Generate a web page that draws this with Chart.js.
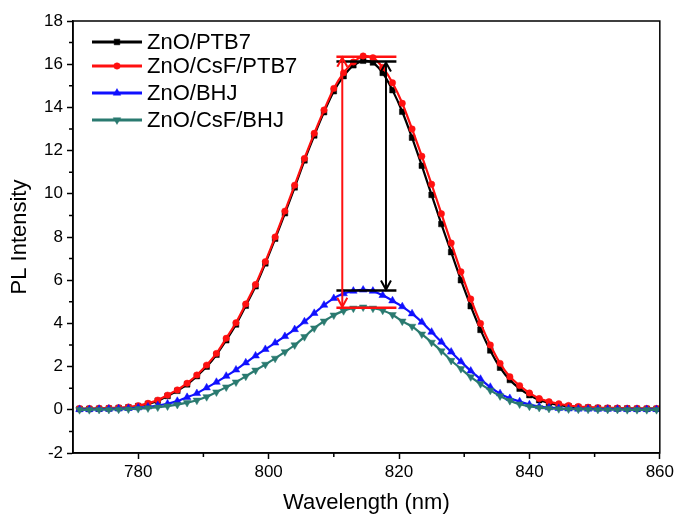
<!DOCTYPE html>
<html>
<head>
<meta charset="utf-8">
<script src="https://cdn.jsdelivr.net/npm/chart.js@4/dist/chart.umd.min.js"></script>
<style>
  html, body { margin: 0; padding: 0; background: #ffffff; }
  canvas { display: block; }
</style>
</head>
<body>
<canvas id="c" width="677" height="515"></canvas>
<script>
// ---- data ----
const wavelengths = [771, 772.5, 774, 775.5, 777, 778.5, 780, 781.5, 783, 784.5,
  786, 787.5, 789, 790.5, 792, 793.5, 795, 796.5, 798, 799.5,
  801, 802.5, 804, 805.5, 807, 808.5, 810, 811.5, 813, 814.5,
  816, 817.5, 819, 820.5, 822, 823.5, 825, 826.5, 828, 829.5,
  831, 832.5, 834, 835.5, 837, 838.5, 840, 841.5, 843, 844.5,
  846, 847.5, 849, 850.5, 852, 853.5, 855, 856.5, 858, 859.5];

const znoPtb7 = [0.04, 0.04, 0.05, 0.06, 0.08, 0.11, 0.17, 0.27, 0.42, 0.64,
  0.88, 1.18, 1.56, 2.00, 2.55, 3.22, 3.95, 4.82, 5.72, 6.78,
  7.92, 9.10, 10.30, 11.55, 12.70, 13.78, 14.75, 15.45, 15.95, 16.16,
  16.08, 15.60, 14.80, 13.80, 12.60, 11.30, 9.95, 8.60, 7.30, 6.00,
  4.80, 3.70, 2.75, 1.95, 1.38, 0.98, 0.68, 0.45, 0.32, 0.22,
  0.16, 0.12, 0.10, 0.08, 0.07, 0.06, 0.06, 0.05, 0.05, 0.05];

const znoCsfPtb7 = [0.06, 0.06, 0.07, 0.08, 0.10, 0.13, 0.19, 0.30, 0.45, 0.68,
  0.92, 1.23, 1.61, 2.07, 2.61, 3.31, 4.03, 4.90, 5.80, 6.86,
  8.00, 9.20, 10.40, 11.64, 12.80, 13.88, 14.88, 15.60, 16.10, 16.38,
  16.30, 15.85, 15.14, 14.19, 13.00, 11.74, 10.44, 9.08, 7.72, 6.39,
  5.13, 4.00, 3.00, 2.15, 1.53, 1.12, 0.78, 0.52, 0.38, 0.28,
  0.20, 0.15, 0.12, 0.10, 0.09, 0.08, 0.07, 0.07, 0.06, 0.06];

const znoBhj = [0.02, 0.02, 0.03, 0.04, 0.05, 0.07, 0.10, 0.14, 0.20, 0.28,
  0.40, 0.58, 0.76, 1.02, 1.28, 1.56, 1.85, 2.18, 2.50, 2.80,
  3.10, 3.40, 3.72, 4.08, 4.47, 4.85, 5.16, 5.38, 5.50, 5.55,
  5.50, 5.30, 5.05, 4.78, 4.45, 4.06, 3.60, 3.14, 2.68, 2.23,
  1.80, 1.42, 1.05, 0.75, 0.53, 0.38, 0.24, 0.15, 0.10, 0.07,
  0.05, 0.04, 0.04, 0.03, 0.03, 0.03, 0.02, 0.02, 0.02, 0.02];

const znoCsfBhj = [0.00, 0.00, 0.01, 0.01, 0.02, 0.03, 0.05, 0.08, 0.12, 0.17,
  0.24, 0.33, 0.44, 0.60, 0.82, 1.05, 1.28, 1.55, 1.83, 2.10,
  2.38, 2.68, 3.00, 3.38, 3.78, 4.10, 4.38, 4.58, 4.70, 4.75,
  4.70, 4.60, 4.40, 4.10, 3.86, 3.50, 3.12, 2.72, 2.28, 1.90,
  1.52, 1.20, 0.90, 0.64, 0.42, 0.26, 0.16, 0.10, 0.06, 0.04,
  0.03, 0.02, 0.02, 0.01, 0.01, 0.01, 0.00, 0.00, 0.00, 0.00];

const seriesNames = ['ZnO/PTB7', 'ZnO/CsF/PTB7', 'ZnO/BHJ', 'ZnO/CsF/BHJ'];
const xTicks = [780, 800, 820, 840, 860];
const xMinorTicks = [790, 810, 830, 850];
const yTicks = [-2, 0, 2, 4, 6, 8, 10, 12, 14, 16, 18];
const yMinorTicks = [-1, 1, 3, 5, 7, 9, 11, 13, 15, 17];

// arrows: [red (CsF), black (no CsF)]
const levelSpan = [810.4, 819.6];
const arrowX = [811.3, 818.0];
const arrowTop = [16.35, 16.12];
const arrowBottom = [4.72, 5.52];

// ---- chart ----
const FONT = "'Liberation Sans', Arial, sans-serif";
const colors = ['#000000', '#ff1010', '#1010ff', '#2a7a70'];
const styles = [
  { pointStyle: 'rect', rotation: 0, radius: 4 },
  { pointStyle: 'circle', rotation: 0, radius: 3.2 },
  { pointStyle: 'triangle', rotation: 0, radius: 4.4 },
  { pointStyle: 'triangle', rotation: 180, radius: 4.4 }
];
const series = [znoPtb7, znoCsfPtb7, znoBhj, znoCsfBhj];
const orders = [4, 3, 2, 1];

const datasets = series.map((vals, i) => ({
  label: seriesNames[i],
  data: wavelengths.map((w, j) => ({ x: w, y: vals[j] })),
  borderColor: colors[i],
  backgroundColor: colors[i],
  pointBackgroundColor: colors[i],
  pointBorderColor: colors[i],
  pointBorderWidth: 0.5,
  borderWidth: 2.2,
  pointStyle: styles[i].pointStyle,
  rotation: styles[i].rotation,
  pointRadius: styles[i].radius,
  tension: 0.2,
  order: orders[i]
}));

const annColors = ['#ff1010', '#000000'];
for (let i = 0; i < 2; i++) {
  datasets.push({
    label: 'top' + i,
    data: [{ x: levelSpan[0], y: arrowTop[i] }, { x: levelSpan[1], y: arrowTop[i] }],
    borderColor: annColors[i], borderWidth: 2.5, pointRadius: 0, order: 0
  });
  datasets.push({
    label: 'bottom' + i,
    data: [{ x: levelSpan[0], y: arrowBottom[i] }, { x: levelSpan[1], y: arrowBottom[i] }],
    borderColor: annColors[i], borderWidth: 2.5, pointRadius: 0, order: 0
  });
  datasets.push({
    label: 'arrow' + i,
    data: [{ x: arrowX[i], y: arrowTop[i] }, { x: arrowX[i], y: arrowBottom[i] }],
    borderColor: annColors[i], borderWidth: 2, pointRadius: 0, order: 0
  });
}

const decorPlugin = {
  id: 'decor',
  afterDatasetsDraw(chart) {
    const ctx = chart.ctx;
    const xs = chart.scales.x, ys = chart.scales.y;
    ctx.save();
    for (let i = 0; i < 2; i++) {
      const px = xs.getPixelForValue(arrowX[i]);
      const pt = ys.getPixelForValue(arrowTop[i]);
      const pb = ys.getPixelForValue(arrowBottom[i]);
      ctx.strokeStyle = annColors[i];
      ctx.lineWidth = 2;
      ctx.beginPath();
      ctx.moveTo(px - 5, pt + 10); ctx.lineTo(px, pt + 1); ctx.lineTo(px + 5, pt + 10);
      ctx.moveTo(px - 5, pb - 10); ctx.lineTo(px, pb - 1); ctx.lineTo(px + 5, pb - 10);
      ctx.stroke();
    }
    ctx.restore();
  },
  afterDraw(chart) {
    const ctx = chart.ctx;
    const a = chart.chartArea;
    const xs = chart.scales.x, ys = chart.scales.y;
    ctx.save();
    ctx.strokeStyle = '#000';
    ctx.lineWidth = 1.5;
    ctx.strokeRect(a.left, a.top, a.right - a.left, a.bottom - a.top);
    ctx.beginPath();
    xMinorTicks.forEach(v => {
      const p = xs.getPixelForValue(v);
      ctx.moveTo(p, a.bottom); ctx.lineTo(p, a.bottom + 4);
    });
    yMinorTicks.forEach(v => {
      const p = ys.getPixelForValue(v);
      ctx.moveTo(a.left, p); ctx.lineTo(a.left - 4, p);
    });
    ctx.stroke();
    // legend
    const rows = [42, 66, 93, 120];
    for (let i = 0; i < 4; i++) {
      const y = rows[i];
      ctx.strokeStyle = colors[i];
      ctx.fillStyle = colors[i];
      ctx.lineWidth = 2.8;
      ctx.beginPath();
      ctx.moveTo(92, y); ctx.lineTo(142, y);
      ctx.stroke();
      ctx.lineWidth = 0.5;
      Chart.helpers.drawPoint(ctx, {
        pointStyle: styles[i].pointStyle,
        rotation: styles[i].rotation,
        radius: styles[i].radius,
        borderWidth: 0.5
      }, 117, y);
      ctx.fillStyle = '#000';
      ctx.font = '22px ' + FONT;
      ctx.textBaseline = 'middle';
      ctx.textAlign = 'left';
      ctx.fillText(seriesNames[i], 147, y + 1);
    }
    ctx.restore();
  }
};

new Chart(document.getElementById('c'), {
  type: 'line',
  data: { datasets },
  plugins: [decorPlugin],
  options: {
    responsive: false,
    animation: false,
    events: [],
    layout: { padding: { top: 21, right: 16, left: 0, bottom: 0 } },
    plugins: { legend: { display: false }, tooltip: { enabled: false } },
    scales: {
      x: {
        type: 'linear',
        min: 770, max: 860,
        afterBuildTicks: s => { s.ticks = xTicks.map(v => ({ value: v })); },
        afterFit: s => { s.height = 62; },
        grid: { display: true, drawOnChartArea: false, drawTicks: true, tickLength: 6, tickColor: '#000', tickWidth: 1.5 },
        border: { display: true, color: '#000', width: 1.5 },
        ticks: { color: '#000', font: { family: FONT, size: 17 }, padding: 3, maxRotation: 0, autoSkip: false },
        title: { display: true, text: 'Wavelength (nm)', color: '#000', font: { family: FONT, size: 22 }, padding: { top: 0, bottom: -1 } }
      },
      y: {
        type: 'linear',
        min: -2, max: 18,
        afterBuildTicks: s => { s.ticks = yTicks.map(v => ({ value: v })); },
        afterFit: s => { s.width = 73; },
        grid: { display: true, drawOnChartArea: false, drawTicks: true, tickLength: 6, tickColor: '#000', tickWidth: 1.5 },
        border: { display: true, color: '#000', width: 1.5 },
        ticks: { color: '#000', font: { family: FONT, size: 17 }, padding: 4, autoSkip: false },
        title: { display: true, text: 'PL Intensity', color: '#000', font: { family: FONT, size: 22 }, padding: { top: 7, bottom: 0 } }
      }
    }
  }
});
</script>
</body>
</html>
